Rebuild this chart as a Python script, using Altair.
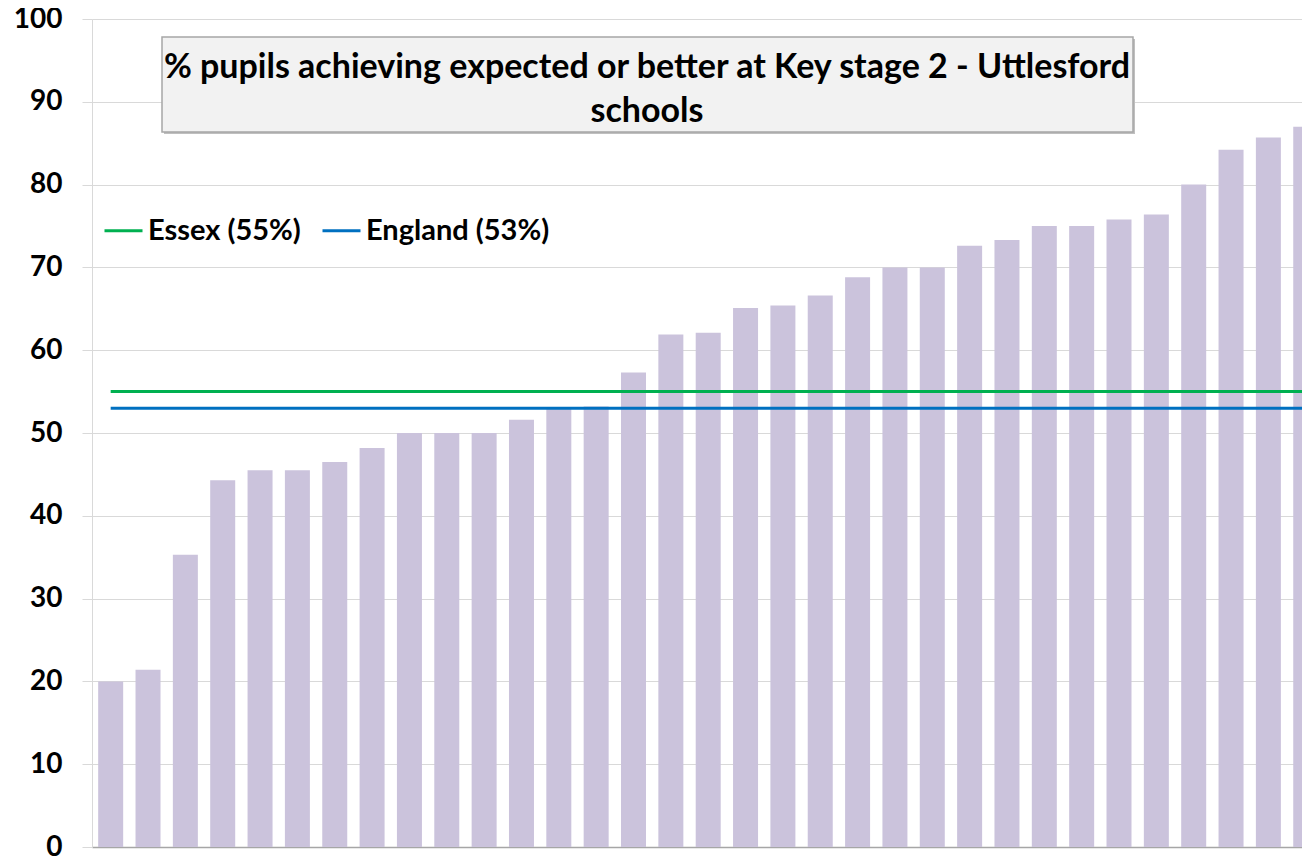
import altair as alt
import pandas as pd

# ---- data ----
school_values = [20.0, 21.4, 35.3, 44.3, 45.5, 45.5, 46.5, 48.2, 50.0, 50.0, 50.0,
                 51.6, 52.9, 53.2, 57.3, 61.9, 62.1, 65.1, 65.4, 66.6, 68.8, 70.0,
                 70.0, 72.6, 73.3, 75.0, 75.0, 75.8, 76.4, 80.0, 84.2, 85.7, 87.0]
school_rank = list(range(1, len(school_values) + 1))

benchmark_names = ["Essex (55%)", "England (53%)"]
benchmark_values = [55, 53]
benchmark_colors = ["#00b050", "#0070c0"]

title_lines = ["% pupils achieving expected or better at Key stage 2 - Uttlesford", "schools"]
y_ticks = list(range(0, 101, 10))

bars_df = pd.DataFrame({"rank": school_rank, "pct": school_values})
bench_df = pd.DataFrame({"series": benchmark_names, "pct": benchmark_values,
                         "first": [school_rank[0]] * 2, "last": [school_rank[-1]] * 2})
one_row = pd.DataFrame({"k": [0]})

FONT = "Lato"

x_scale = alt.Scale(domain=[0.5, 32.9], nice=False, zero=False, padding=0)
x_enc = alt.X("rank:Q", scale=x_scale,
              axis=alt.Axis(labels=False, ticks=False, grid=False, title=None,
                            domainColor="#a6a6a6", domainWidth=1.5))
y_enc = alt.Y("pct:Q",
              scale=alt.Scale(domain=[0, 100], nice=False, padding=0),
              axis=alt.Axis(values=y_ticks, title=None, grid=True, gridColor="#d9d9d9",
                            tickColor="#d9d9d9", tickSize=10, domainColor="#d9d9d9",
                            labelFont=FONT, labelFontSize=28, labelFontWeight="bold",
                            labelColor="#000000", labelPadding=20))

bars = alt.Chart(bars_df).mark_bar(width=25, color="#cbc3dc", clip=True).encode(
    x=x_enc, y=y_enc)

rules = alt.Chart(bench_df).mark_rule(strokeWidth=3, clip=True).encode(
    x=alt.X("first:Q", scale=x_scale),
    x2="last:Q",
    y=alt.Y("pct:Q"),
    color=alt.Color("series:N",
                    scale=alt.Scale(domain=benchmark_names, range=benchmark_colors),
                    legend=alt.Legend(orient="none", legendX=11, legendY=191,
                                      direction="horizontal", title=None,
                                      symbolType="stroke", symbolSize=1444,
                                      symbolStrokeWidth=3, labelFont=FONT,
                                      labelFontSize=29, labelFontWeight="bold",
                                      labelColor="#000000", labelOffset=4,
                                      columnPadding=15, labelLimit=400)))

shadow = alt.Chart(one_row).mark_rect(color="#bfbfbf").encode(
    x=alt.value(72), x2=alt.value(1043), y=alt.value(20), y2=alt.value(115))
box = alt.Chart(one_row).mark_rect(fill="#f2f2f2", stroke="#a6a6a6", strokeWidth=1.5).encode(
    x=alt.value(70), x2=alt.value(1041), y=alt.value(18), y2=alt.value(113))
title_text = alt.Chart(one_row).mark_text(
    text=title_lines, font=FONT, fontSize=34, fontWeight="bold", color="#000000",
    align="center", baseline="alphabetic", lineHeight=44).encode(
    x=alt.value(555), y=alt.value(59))

chart = alt.layer(bars, rules, shadow, box, title_text).properties(
    width=1210, height=828,
    padding={"left": 84, "top": 11, "right": 0, "bottom": 9},
    autosize=alt.AutoSizeParams(type="none"),
    background="#ffffff",
).configure_view(stroke=None)

chart.save("out.html", embed_options={"renderer": "svg", "actions": False})
